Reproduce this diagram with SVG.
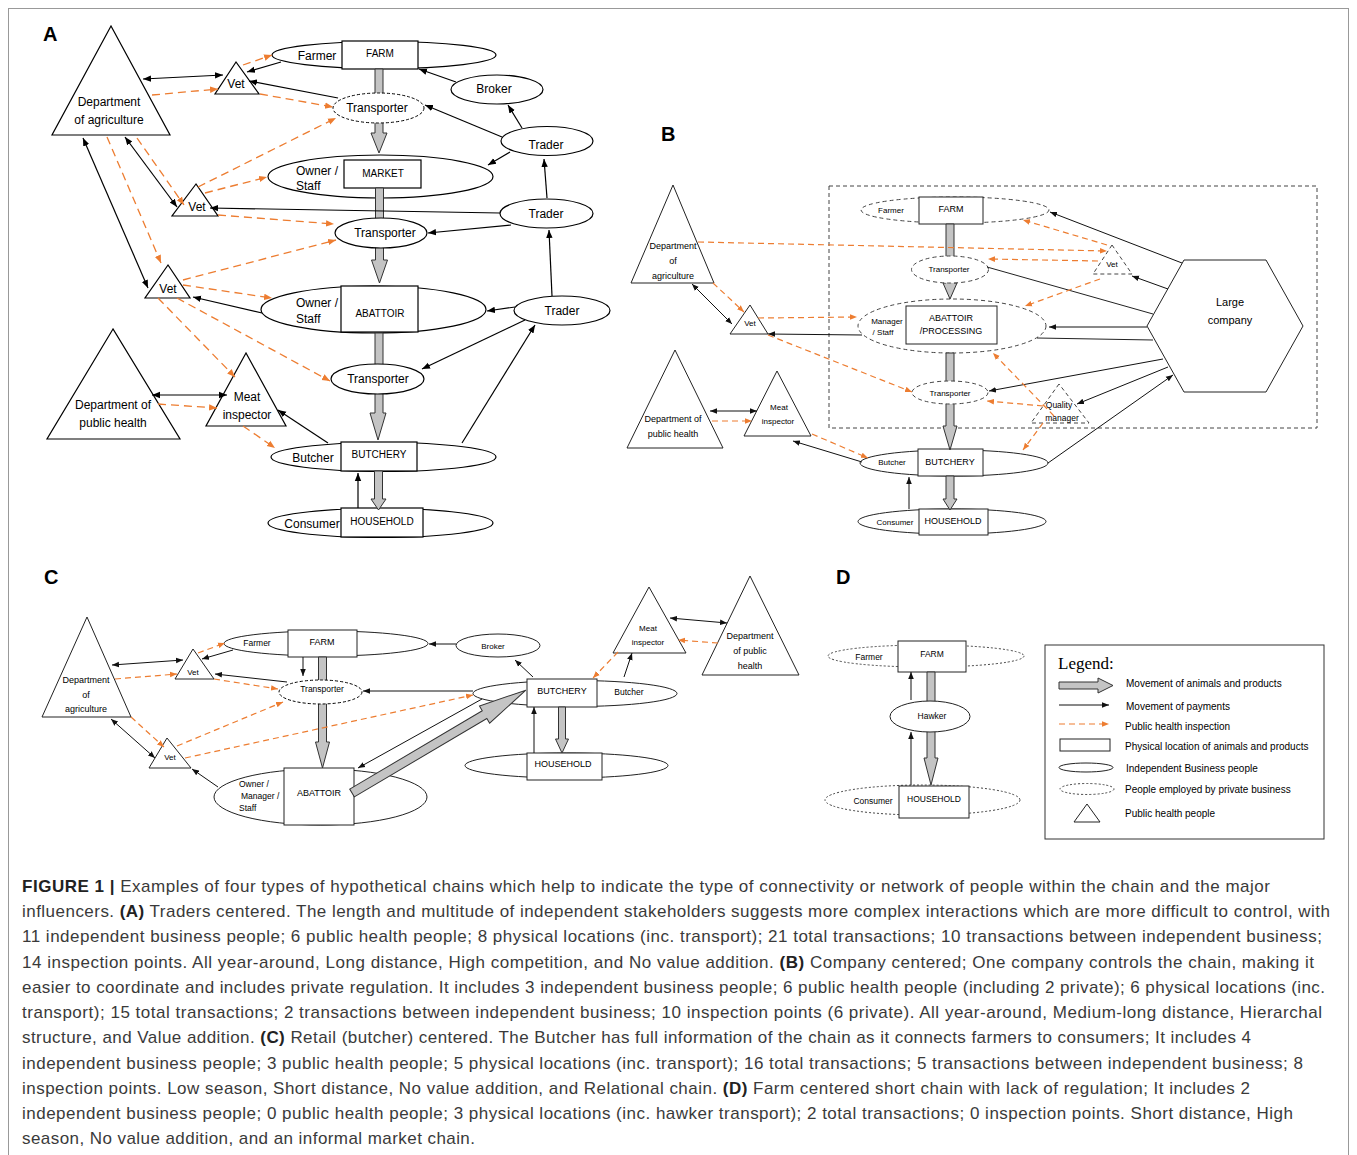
<svg xmlns="http://www.w3.org/2000/svg" width="1357" height="1155" viewBox="0 0 1357 1155">
<style>
text{font-family:"Liberation Sans",Arial,sans-serif;fill:#000}
.m{text-anchor:middle}
.s12{font-size:12px}.s11{font-size:11px}.s10{font-size:10px}.s9{font-size:9px}.s8{font-size:8px}.s85{font-size:8.5px}
.lbl{font-size:20px;font-weight:bold}
.nd{fill:#fff;stroke:#000;stroke-width:1.2}
.nd2{fill:#fff;stroke:#222;stroke-width:1}
.dsh{fill:#fff;stroke:#000;stroke-width:1;stroke-dasharray:3,2}
.gd{fill:#fff;stroke:#444;stroke-width:1;stroke-dasharray:4,3}
.gdn{fill:none;stroke:#444;stroke-width:1;stroke-dasharray:4,3}
.dot{fill:#fff;stroke:#444;stroke-width:1;stroke-dasharray:2,2}
.flow{fill:#c4c4c4;stroke:#333;stroke-width:1}
.p{stroke:#000;stroke-width:1.2;fill:none;marker-end:url(#ab)}
.pp{stroke:#000;stroke-width:1.2;fill:none;marker-end:url(#ab);marker-start:url(#ab)}
.pn{stroke:#222;stroke-width:1;fill:none}
.q{stroke:#ED7D31;stroke-width:1.3;fill:none;stroke-dasharray:8,5;marker-end:url(#ao)}
.ps{stroke:#111;stroke-width:1;fill:none;marker-end:url(#sb)}
.pps{stroke:#111;stroke-width:1;fill:none;marker-end:url(#sb);marker-start:url(#sb)}
.qs{stroke:#ED7D31;stroke-width:1.2;fill:none;stroke-dasharray:6,4;marker-end:url(#so)}
.cap{font-size:17px;fill:#3a3a3a}
.cap tspan.b{font-weight:bold;fill:#222}
</style>
<defs>
<marker id="ab" viewBox="0 0 10 10" refX="10" refY="5" markerWidth="8" markerHeight="8" markerUnits="userSpaceOnUse" orient="auto-start-reverse"><path d="M0,1 L10,5 L0,9 z" fill="#000"/></marker>
<marker id="ao" viewBox="0 0 10 10" refX="10" refY="5" markerWidth="8" markerHeight="8" markerUnits="userSpaceOnUse" orient="auto-start-reverse"><path d="M0,1 L10,5 L0,9 z" fill="#ED7D31"/></marker>
<marker id="sb" viewBox="0 0 10 10" refX="10" refY="5" markerWidth="7" markerHeight="7" markerUnits="userSpaceOnUse" orient="auto-start-reverse"><path d="M0,1 L10,5 L0,9 z" fill="#111"/></marker>
<marker id="so" viewBox="0 0 10 10" refX="10" refY="5" markerWidth="7" markerHeight="7" markerUnits="userSpaceOnUse" orient="auto-start-reverse"><path d="M0,1 L10,5 L0,9 z" fill="#ED7D31"/></marker>
</defs>
<rect x="0" y="0" width="1357" height="1155" fill="#fff"/>
<rect x="8.5" y="8.5" width="1340" height="1200" fill="none" stroke="#999" stroke-width="1"/>

<text class="lbl" x="43" y="41">A</text>
<text class="lbl" x="661" y="141">B</text>
<text class="lbl" x="44" y="584">C</text>
<text class="lbl" x="836" y="584">D</text>

<!-- B company boundary -->
<rect id="B-company-boundary" x="829" y="186" width="488" height="242" class="gdn"/>

<!-- Location nodes (people ellipse + place box) -->
<g id="A-farm"><ellipse cx="384" cy="55" rx="112" ry="13.5" class="nd"/><rect x="342" y="41" width="76" height="28" class="nd"/><text class="s12 m" x="317" y="60">Farmer</text><text class="s10 m" x="380" y="57">FARM</text></g>
<g id="A-market"><ellipse cx="380.5" cy="176.5" rx="112.5" ry="21.5" class="nd"/><rect x="344" y="160" width="77" height="28" class="nd"/><text class="s12" x="296" y="175">Owner /</text><text class="s12" x="296" y="190">Staff</text><text class="s10 m" x="383" y="177">MARKET</text></g>
<g id="A-abattoir"><ellipse cx="373.5" cy="309.5" rx="112.5" ry="23.5" class="nd"/><rect x="341" y="286" width="77" height="46" class="nd"/><text class="s12" x="296" y="307">Owner /</text><text class="s12" x="296" y="323">Staff</text><text class="s10 m" x="380" y="317">ABATTOIR</text></g>
<g id="A-butchery"><ellipse cx="383.5" cy="457" rx="112.5" ry="14.5" class="nd"/><rect x="341" y="442" width="76" height="29" class="nd"/><text class="s12 m" x="313" y="462">Butcher</text><text class="s10 m" x="379" y="458">BUTCHERY</text></g>
<g id="A-household"><ellipse cx="380.5" cy="523" rx="112.5" ry="14.5" class="nd"/><rect x="341" y="508" width="82" height="29" class="nd"/><text class="s12 m" x="312" y="528">Consumer</text><text class="s10 m" x="382" y="525">HOUSEHOLD</text></g>

<g id="B-farm"><ellipse cx="955" cy="210" rx="94" ry="13" class="gd"/><rect x="919" y="197" width="64" height="27" class="nd2"/><text class="s8 m" x="891" y="213">Farmer</text><text class="s9 m" x="951" y="212">FARM</text></g>
<g id="B-abattoir"><ellipse cx="952" cy="326" rx="94" ry="27" class="gd"/><rect x="906" y="306" width="91" height="38" class="nd2"/><text class="s8 m" x="887" y="324">Manager</text><text class="s8 m" x="883" y="335">/ Staff</text><text class="s9 m" x="951" y="321">ABATTOIR</text><text class="s9 m" x="951" y="334">/PROCESSING</text></g>
<g id="B-butchery"><ellipse cx="954" cy="463" rx="94" ry="13" class="nd2"/><rect x="918" y="449" width="65" height="27" class="nd2"/><text class="s8 m" x="892" y="465">Butcher</text><text class="s9 m" x="950" y="465">BUTCHERY</text></g>
<g id="B-household"><ellipse cx="952" cy="521.5" rx="94" ry="12.5" class="nd2"/><rect x="919" y="509" width="69" height="26" class="nd2"/><text class="s8 m" x="895" y="525">Consumer</text><text class="s9 m" x="953" y="524">HOUSEHOLD</text></g>

<g id="C-farm"><ellipse cx="326" cy="643.5" rx="102" ry="12.5" class="nd2"/><rect x="288" y="630" width="69" height="27" class="nd2"/><text class="s85 m" x="257" y="646">Farmer</text><text class="s9 m" x="322" y="645">FARM</text></g>
<g id="C-abattoir"><ellipse cx="320.5" cy="797" rx="106.5" ry="28" class="nd2"/><rect x="284" y="768" width="70" height="57" class="nd2"/><text class="s85" x="239" y="787">Owner /</text><text class="s85" x="241" y="799">Manager /</text><text class="s85" x="239" y="811">Staff</text><text class="s9 m" x="319" y="796">ABATTOIR</text></g>
<g id="C-butchery"><ellipse cx="575" cy="693.5" rx="102" ry="13" class="nd2"/><rect x="527" y="679" width="70" height="28" class="nd2"/><text class="s9 m" x="562" y="694">BUTCHERY</text><text class="s85 m" x="629" y="695">Butcher</text></g>
<g id="C-household"><ellipse cx="566.5" cy="765.5" rx="101.5" ry="12.5" class="nd2"/><rect x="527" y="753" width="75" height="27" class="nd2"/><text class="s9 m" x="563" y="767">HOUSEHOLD</text></g>

<g id="D-farm"><ellipse cx="926" cy="656" rx="98" ry="11" class="dot"/><rect x="898" y="641" width="68" height="31" class="nd2"/><text class="s85 m" x="869" y="660">Farmer</text><text class="s85 m" x="932" y="657">FARM</text></g>
<g id="D-household"><ellipse cx="922.5" cy="800" rx="97.5" ry="15" class="dot"/><rect x="899" y="786" width="70" height="32" class="nd2"/><text class="s85 m" x="873" y="804">Consumer</text><text class="s85 m" x="934" y="802">HOUSEHOLD</text></g>

<!-- Movement of animals and products (block arrows) -->
<g id="flows">
<polygon class="flow" points="375,69 383,69 383,133 387,133 379,153 371,133 375,133"/>
<polygon class="flow" points="375.5,188 383.5,188 383.5,260 387.5,260 379.5,283 371.5,260 375.5,260"/>
<polygon class="flow" points="375,333 383,333 383,413 386,413 378,440 370,413 375,413"/>
<polygon class="flow" points="374.5,471 382.5,471 382.5,499 386,499 378.5,510 371,499 374.5,499"/>
<polygon class="flow" points="946,224 954,224 954,283 957,283 950,299 943,283 946,283"/>
<polygon class="flow" points="946,353 954,353 954,426 957,426 950,450 943,426 946,426"/>
<polygon class="flow" points="946,476 954,476 954,499 957,499 950,510 943,499 946,499"/>
<polygon class="flow" points="318.5,657 326.5,657 326.5,742 329.5,742 322.5,768 315.5,742 318.5,742"/>
<polygon class="flow" points="558.5,707 565.5,707 565.5,739 568.5,739 562,753 555.5,739 558.5,739"/>
<polygon class="flow" points="927,672 935,672 935,758 938,758 931,785 924,758 927,758"/>
</g>

<!-- Other people nodes -->
<g id="A-dept-agriculture"><polygon points="111,26 52,135 170,135" class="nd"/><text class="s12 m" x="109" y="106">Department</text><text class="s12 m" x="109" y="124">of agriculture</text></g>
<g id="A-vet1"><polygon points="236,62 215,94 259,94" class="nd"/><text class="s12 m" x="236" y="88">Vet</text></g>
<g id="A-vet2"><polygon points="196,184 172,216 218,216" class="nd"/><text class="s12 m" x="197" y="211">Vet</text></g>
<g id="A-vet3"><polygon points="168,265 145,298 190,298" class="nd"/><text class="s12 m" x="168" y="293">Vet</text></g>
<g id="A-dept-public-health"><polygon points="113,329 47,439 180,439" class="nd"/><text class="s12 m" x="113" y="409">Department of</text><text class="s12 m" x="113" y="427">public health</text></g>
<g id="A-meat-inspector"><polygon points="246,353 206,426 286,426" class="nd"/><text class="s12 m" x="247" y="401">Meat</text><text class="s12 m" x="247" y="419">inspector</text></g>
<g id="A-broker"><ellipse cx="497" cy="89.5" rx="46" ry="14.5" class="nd"/><text class="s12 m" x="494" y="93">Broker</text></g>
<g id="A-transporter1"><ellipse cx="378.5" cy="108" rx="45.5" ry="15" class="dsh"/><text class="s12 m" x="377" y="112">Transporter</text></g>
<g id="A-trader1"><ellipse cx="547" cy="141" rx="46" ry="14.5" class="nd"/><text class="s12 m" x="546" y="149">Trader</text></g>
<g id="A-trader2"><ellipse cx="546.5" cy="213.5" rx="46.5" ry="14.5" class="nd"/><text class="s12 m" x="546" y="218">Trader</text></g>
<g id="A-transporter2"><ellipse cx="381" cy="233" rx="46" ry="15" class="nd"/><text class="s12 m" x="385" y="237">Transporter</text></g>
<g id="A-trader3"><ellipse cx="562" cy="310.5" rx="48" ry="14.5" class="nd"/><text class="s12 m" x="562" y="315">Trader</text></g>
<g id="A-transporter3"><ellipse cx="377.5" cy="379" rx="46.5" ry="15" class="nd"/><text class="s12 m" x="378" y="383">Transporter</text></g>

<g id="B-dept-agriculture"><polygon points="673,185 631,283 714,283" class="nd2"/><text class="s9 m" x="673" y="249">Department</text><text class="s9 m" x="673" y="264">of</text><text class="s9 m" x="673" y="279">agriculture</text></g>
<g id="B-vet1"><polygon points="750,305 730,334 768,334" class="nd2"/><text class="s8 m" x="750" y="326">Vet</text></g>
<g id="B-vet2"><polygon points="1112,245 1093,274 1132,274" class="gd"/><text class="s8 m" x="1112" y="267">Vet</text></g>
<g id="B-transporter1"><ellipse cx="950" cy="269.5" rx="38.5" ry="13.5" class="gd"/><text class="s8 m" x="949" y="272">Transporter</text></g>
<g id="B-transporter2"><ellipse cx="950" cy="392.5" rx="38" ry="11.5" class="gd"/><text class="s8 m" x="950" y="396">Transporter</text></g>
<g id="B-quality-manager"><polygon points="1059,384 1031,423 1089,423" class="gd"/><text class="s85 m" x="1059" y="408">Quality</text><text class="s85 m" x="1062" y="421">manager</text></g>
<g id="B-large-company"><polygon points="1147,326 1184,260 1266,260 1303,326 1266,392 1184,392" class="nd2"/><text class="s11 m" x="1230" y="306">Large</text><text class="s11 m" x="1230" y="324">company</text></g>
<g id="B-dept-public-health"><polygon points="675,350 627,448 723,448" class="nd2"/><text class="s9 m" x="673" y="422">Department of</text><text class="s9 m" x="673" y="437">public health</text></g>
<g id="B-meat-inspector"><polygon points="777,371 744,436 811,436" class="nd2"/><text class="s8 m" x="779" y="410">Meat</text><text class="s8 m" x="778" y="424">inspector</text></g>

<g id="C-dept-agriculture"><polygon points="87,617 42,717 131,717" class="nd2"/><text class="s9 m" x="86" y="683">Department</text><text class="s9 m" x="86" y="698">of</text><text class="s9 m" x="86" y="712">agriculture</text></g>
<g id="C-vet1"><polygon points="193,649 175,679 214,679" class="nd2"/><text class="s8 m" x="193" y="675">Vet</text></g>
<g id="C-vet2"><polygon points="167,738 149,768 191,768" class="nd2"/><text class="s8 m" x="170" y="760">Vet</text></g>
<g id="C-transporter"><ellipse cx="320.5" cy="692" rx="41.5" ry="12" class="dsh"/><text class="s85 m" x="322" y="692">Transporter</text></g>
<g id="C-broker"><ellipse cx="498" cy="645.5" rx="42" ry="11.5" class="nd2"/><text class="s8 m" x="493" y="649">Broker</text></g>
<g id="C-meat-inspector"><polygon points="649,587 613,653 686,653" class="nd2"/><text class="s8 m" x="648" y="631">Meat</text><text class="s8 m" x="648" y="645">inspector</text></g>
<g id="C-dept-public-health"><polygon points="750,576 702,675 799,675" class="nd2"/><text class="s9 m" x="750" y="639">Department</text><text class="s9 m" x="750" y="654">of public</text><text class="s9 m" x="750" y="669">health</text></g>

<g id="D-hawker"><ellipse cx="930" cy="716.5" rx="40" ry="15.5" class="nd2"/><text class="s85 m" x="932" y="719">Hawker</text></g>

<!-- Connectors -->
<g id="connectors">
<!-- Panel A -->
<line class="pp" x1="143" y1="79" x2="223" y2="75"/>
<line class="q" x1="152" y1="95" x2="218" y2="89"/>
<line class="p" x1="281" y1="62" x2="247" y2="72"/>
<line class="q" x1="243" y1="65" x2="272" y2="55"/>
<line class="p" x1="338" y1="98" x2="249" y2="81"/>
<line class="q" x1="260" y1="94" x2="333" y2="107"/>
<line class="p" x1="456" y1="82" x2="419" y2="69"/>
<line class="p" x1="522" y1="128" x2="508" y2="105"/>
<line class="p" x1="502" y1="137" x2="425" y2="105"/>
<line class="p" x1="510" y1="152" x2="488" y2="165"/>
<line class="p" x1="547" y1="198" x2="544" y2="159"/>
<line class="p" x1="500" y1="213" x2="210" y2="208"/>
<line class="p" x1="511" y1="225" x2="428" y2="233"/>
<line class="p" x1="552" y1="296" x2="549" y2="230"/>
<line class="pp" x1="125" y1="137" x2="177" y2="207"/>
<line class="q" x1="137" y1="138" x2="184" y2="205"/>
<line class="pp" x1="83" y1="138" x2="148" y2="288"/>
<line class="q" x1="107" y1="137" x2="161" y2="263"/>
<line class="q" x1="205" y1="193" x2="267" y2="177"/>
<line class="q" x1="198" y1="187" x2="336" y2="118"/>
<line class="q" x1="218" y1="215" x2="334" y2="224"/>
<line class="q" x1="183" y1="280" x2="336" y2="240"/>
<line class="q" x1="183" y1="285" x2="272" y2="298"/>
<line class="p" x1="262" y1="313" x2="193" y2="297"/>
<line class="q" x1="177" y1="298" x2="330" y2="381"/>
<line class="q" x1="158" y1="298" x2="235" y2="377"/>
<line class="pp" x1="152" y1="395" x2="227" y2="395"/>
<line class="q" x1="158" y1="404" x2="217" y2="408"/>
<line class="q" x1="243" y1="426" x2="275" y2="448"/>
<line class="p" x1="328" y1="443" x2="278" y2="410"/>
<line class="p" x1="515" y1="307" x2="487" y2="311"/>
<line class="p" x1="525" y1="320" x2="422" y2="369"/>
<line class="p" x1="462" y1="443" x2="535" y2="325"/>
<line class="p" x1="358" y1="508" x2="358" y2="473"/>
<!-- Panel B -->
<line class="pps" x1="692" y1="284" x2="732" y2="324"/>
<line class="qs" x1="713" y1="283" x2="744" y2="312"/>
<line class="qs" x1="698" y1="242" x2="1107" y2="251"/>
<line class="qs" x1="758" y1="318" x2="857" y2="317"/>
<line class="ps" x1="862" y1="335" x2="768" y2="334"/>
<line class="qs" x1="768" y1="335" x2="912" y2="392"/>
<line class="ps" x1="1182" y1="263" x2="1050" y2="212"/>
<line class="qs" x1="1107" y1="245" x2="1023" y2="220"/>
<line class="qs" x1="1098" y1="261" x2="988" y2="259"/>
<line class="ps" x1="1168" y1="289" x2="1132" y2="276"/>
<line class="pn" x1="987" y1="267" x2="1153" y2="314"/>
<line class="qs" x1="1100" y1="279" x2="1025" y2="306"/>
<line class="ps" x1="1147" y1="327" x2="1049" y2="327"/>
<line class="pn" x1="1037" y1="338" x2="1153" y2="340"/>
<line class="ps" x1="1163" y1="359" x2="989" y2="391"/>
<line class="ps" x1="1168" y1="367" x2="1077" y2="404"/>
<line class="qs" x1="1043" y1="406" x2="987" y2="401"/>
<line class="qs" x1="1054" y1="416" x2="993" y2="353"/>
<line class="qs" x1="1043" y1="423" x2="1023" y2="450"/>
<line class="ps" x1="1048" y1="463" x2="1173" y2="375"/>
<line class="qs" x1="812" y1="434" x2="868" y2="458"/>
<line class="ps" x1="862" y1="462" x2="793" y2="441"/>
<line class="pps" x1="710" y1="411" x2="757" y2="411"/>
<line class="qs" x1="712" y1="421" x2="752" y2="421"/>
<line class="ps" x1="909" y1="509" x2="909" y2="477"/>
<!-- Panel C -->
<line class="pps" x1="112" y1="665" x2="183" y2="660"/>
<line class="qs" x1="115" y1="679" x2="177" y2="674"/>
<line class="qs" x1="198" y1="653" x2="225" y2="643"/>
<line class="ps" x1="233" y1="650" x2="202" y2="659"/>
<line class="ps" x1="303" y1="657" x2="303" y2="676"/>
<line class="ps" x1="287" y1="682" x2="215" y2="674"/>
<line class="qs" x1="214" y1="679" x2="278" y2="689"/>
<line class="ps" x1="473" y1="691" x2="363" y2="691"/>
<line class="qs" x1="177" y1="746" x2="283" y2="702"/>
<line class="qs" x1="185" y1="758" x2="473" y2="695"/>
<line class="pps" x1="111" y1="719" x2="155" y2="758"/>
<line class="qs" x1="131" y1="717" x2="164" y2="747"/>
<line class="ps" x1="218" y1="787" x2="192" y2="769"/>
<line class="ps" x1="482" y1="699" x2="358" y2="768"/>
<line class="ps" x1="533" y1="677" x2="515" y2="660"/>
<line class="ps" x1="456" y1="644" x2="429" y2="644"/>
<line class="qs" x1="618" y1="652" x2="593" y2="678"/>
<line class="ps" x1="624" y1="677" x2="632" y2="653"/>
<line class="pps" x1="670" y1="618" x2="727" y2="623"/>
<line class="qs" x1="718" y1="643" x2="678" y2="640"/>
<line class="ps" x1="534" y1="753" x2="534" y2="707"/>
<polygon class="flow" transform="translate(352,793) rotate(-30.6)" points="0,-4.5 154,-4.5 154,-10 202,0 154,10 154,4.5 0,4.5"/>
<!-- Panel D -->
<line class="ps" x1="911" y1="700" x2="911" y2="672"/>
<line class="ps" x1="911" y1="785" x2="911" y2="732"/>
</g>

<!-- Legend -->
<g id="legend">
<rect x="1045" y="645" width="279" height="194" fill="#fff" stroke="#333" stroke-width="1"/>
<text x="1058" y="669" style="font-family:'Liberation Serif','Times New Roman',serif;font-size:17px">Legend:</text>
<polygon class="flow" points="1059,682 1098,682 1098,678 1113,685.5 1098,693 1098,689 1059,689"/>
<text class="s10" x="1126" y="687">Movement of animals and products</text>
<line class="ps" x1="1059" y1="705" x2="1109" y2="705"/>
<text class="s10" x="1126" y="710">Movement of payments</text>
<line class="qs" x1="1059" y1="724" x2="1109" y2="724"/>
<text class="s10" x="1125" y="730">Public health inspection</text>
<rect x="1060" y="739" width="50" height="12" class="nd2"/>
<text class="s10" x="1125" y="750">Physical location of animals and products</text>
<ellipse cx="1086" cy="767.5" rx="27" ry="4.5" class="nd2"/>
<text class="s10" x="1126" y="772">Independent Business people</text>
<ellipse cx="1087" cy="789" rx="27" ry="5.5" class="dot"/>
<text class="s10" x="1125" y="793">People employed by private business</text>
<polygon points="1087,804 1074,822 1100,822" class="nd2"/>
<text class="s10" x="1125" y="817">Public health people</text>
</g>

<!-- Caption -->
<g id="caption">
<text class="cap" x="22" y="892" textLength="1248" lengthAdjust="spacing"><tspan class="b">FIGURE 1 |</tspan> Examples of four types of hypothetical chains which help to indicate the type of connectivity or network of people within the chain and the major</text>
<text class="cap" x="22" y="917" textLength="1308" lengthAdjust="spacing">influencers. <tspan class="b">(A)</tspan> Traders centered. The length and multitude of independent stakeholders suggests more complex interactions which are more difficult to control, with</text>
<text class="cap" x="22" y="942" textLength="1300" lengthAdjust="spacing">11 independent business people; 6 public health people; 8 physical locations (inc. transport); 21 total transactions; 10 transactions between independent business;</text>
<text class="cap" x="22" y="968" textLength="1292" lengthAdjust="spacing">14 inspection points. All year-around, Long distance, High competition, and No value addition. <tspan class="b">(B)</tspan> Company centered; One company controls the chain, making it</text>
<text class="cap" x="22" y="993" textLength="1303" lengthAdjust="spacing">easier to coordinate and includes private regulation. It includes 3 independent business people; 6 public health people (including 2 private); 6 physical locations (inc.</text>
<text class="cap" x="22" y="1018" textLength="1300" lengthAdjust="spacing">transport); 15 total transactions; 2 transactions between independent business; 10 inspection points (6 private). All year-around, Medium-long distance, Hierarchal</text>
<text class="cap" x="22" y="1043" textLength="1229" lengthAdjust="spacing">structure, and Value addition. <tspan class="b">(C)</tspan> Retail (butcher) centered. The Butcher has full information of the chain as it connects farmers to consumers; It includes 4</text>
<text class="cap" x="22" y="1069" textLength="1281" lengthAdjust="spacing">independent business people; 3 public health people; 5 physical locations (inc. transport); 16 total transactions; 5 transactions between independent business; 8</text>
<text class="cap" x="22" y="1094" textLength="1228" lengthAdjust="spacing">inspection points. Low season, Short distance, No value addition, and Relational chain. <tspan class="b">(D)</tspan> Farm centered short chain with lack of regulation; It includes 2</text>
<text class="cap" x="22" y="1119" textLength="1271" lengthAdjust="spacing">independent business people; 0 public health people; 3 physical locations (inc. hawker transport); 2 total transactions; 0 inspection points. Short distance, High</text>
<text class="cap" x="22" y="1144" textLength="453" lengthAdjust="spacing">season, No value addition, and an informal market chain.</text>
</g>
</svg>
